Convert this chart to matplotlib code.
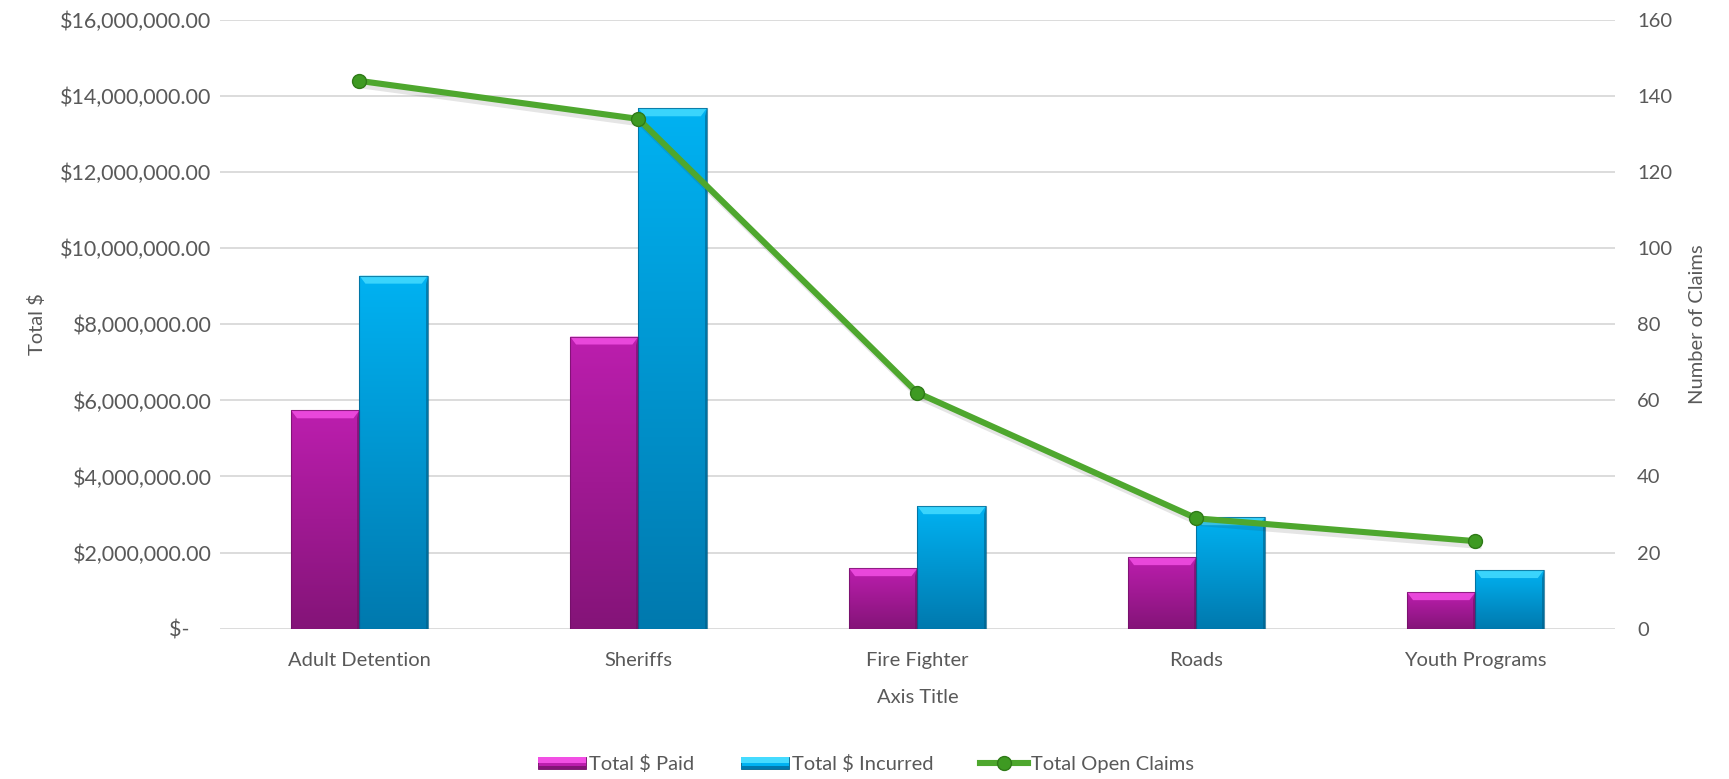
import numpy as np
import matplotlib
matplotlib.use("Agg")
import matplotlib.pyplot as plt
from matplotlib.patches import Polygon, Rectangle
from matplotlib.colors import to_rgb
from matplotlib.legend_handler import HandlerBase
from matplotlib.lines import Line2D
from matplotlib.ticker import FuncFormatter, MultipleLocator
from matplotlib.transforms import ScaledTranslation

# ---- data ----
categories = ["Adult Detention", "Sheriffs", "Fire Fighter", "Roads", "Youth Programs"]
total_paid = [5740000, 7680000, 1590000, 1880000, 960000]
total_incurred = [9280000, 13680000, 3220000, 2930000, 1540000]
open_claims = [144, 134, 62, 29, 23]

# ---- style ----
TEXT = "#595959"
GRID = "#D9D9D9"
PAID = dict(top="#BC1EAE", bottom="#841478", bevel="#F24FE4", edge="#6E0F64")
INCUR = dict(top="#00B2F2", bottom="#0079AE", bevel="#45DBFF", edge="#005F88")
LINE = "#4EA72E"
FS = 14.5

plt.rcParams["font.family"] = ["Lato", "DejaVu Sans"]
plt.rcParams["font.size"] = FS

fig = plt.figure(figsize=(17.29, 7.79), dpi=100)
ax = fig.add_axes([0.1272, 0.193, 0.8068, 0.7813])
ax2 = ax.twinx()

x = np.arange(len(categories))
w = 0.245

XLIM = (-0.5, len(categories) - 0.5)
YLIM = (0, 16_000_000)
ax.set_xlim(*XLIM)
ax.set_ylim(*YLIM)
ax2.set_ylim(0, 160)

bars_paid = ax.bar(x - w / 2, total_paid, width=w, color="none", zorder=2)
bars_inc = ax.bar(x + w / 2, total_incurred, width=w, color="none", zorder=2)


def shade_bars(bars, pal):
    fig.canvas.draw()
    bbox = ax.get_window_extent()
    dx = (XLIM[1] - XLIM[0]) / bbox.width
    dy = (YLIM[1] - YLIM[0]) / bbox.height
    top_rgb = np.array(to_rgb(pal["top"]))
    bot_rgb = np.array(to_rgb(pal["bottom"]))
    for b in bars:
        x0, y0 = b.get_x(), b.get_y()
        bw, bh = b.get_width(), b.get_height()
        x1, y1 = x0 + bw, y0 + bh
        t = np.linspace(0, 1, 256)[:, None, None]
        grad = top_rgb * (1 - t) + bot_rgb * t
        im = ax.imshow(grad, extent=[x0, x1, y0, y1], origin="upper",
                       aspect="auto", interpolation="bicubic", zorder=2)
        clip = Rectangle((x0, y0), bw, bh, transform=ax.transData)
        im.set_clip_path(clip)
        # bevelled top and sides
        bx, by = 6 * dx, 8 * dy
        ax.add_patch(Polygon([(x0, y1), (x1, y1), (x1 - bx, y1 - by), (x0 + bx, y1 - by)],
                             closed=True, facecolor=pal["bevel"], edgecolor="none",
                             alpha=0.85, zorder=2.1))
        ax.add_patch(Polygon([(x1, y1), (x1, y0), (x1 - 2 * dx, y0), (x1 - 2 * dx, y1 - by)],
                             closed=True, facecolor=pal["edge"], edgecolor="none",
                             alpha=0.6, zorder=2.1))
        ax.add_patch(Rectangle((x0, y0), bw, bh, facecolor="none",
                               edgecolor=pal["edge"], lw=0.8, alpha=0.7, zorder=2.2))


shade_bars(bars_paid, PAID)
shade_bars(bars_inc, INCUR)
ax.set_xlim(*XLIM)
ax.set_ylim(*YLIM)

# open claims line on secondary axis, with a soft drop shadow
ax2.plot(x, open_claims, color="#2a2a2a", lw=5, alpha=0.12, zorder=1,
         transform=ax2.transData + ScaledTranslation(2 / 72, -3 / 72, fig.dpi_scale_trans))
ax2.plot(x, open_claims, color=LINE, lw=4.4, marker="o", markersize=10,
         markerfacecolor="#3E9A22", markeredgecolor="#2F7A18", markeredgewidth=1, zorder=3)

# axes styling
ax.yaxis.set_major_locator(MultipleLocator(2_000_000))
ax2.yaxis.set_major_locator(MultipleLocator(20))


def money(v, _):
    if v == 0:
        return "$-    "
    return f"${v:,.2f}"


ax.yaxis.set_major_formatter(FuncFormatter(money))
ax.grid(axis="y", color=GRID, lw=1.3, zorder=0)
ax.set_axisbelow(True)
for a in (ax, ax2):
    for s in a.spines.values():
        s.set_visible(False)
    a.tick_params(length=0, colors=TEXT, labelsize=FS)
ax.tick_params(axis="y", pad=6, labelsize=15.5)
ax2.tick_params(axis="y", pad=16)
ax.tick_params(axis="x", pad=17)

ax.set_xticks(x)
ax.set_xticklabels(categories)

ax.set_ylabel("Total $", color=TEXT, fontsize=FS, labelpad=10)
ax2.set_ylabel("Number of Claims", color=TEXT, fontsize=FS, labelpad=12)
ax.set_xlabel("Axis Title", color=TEXT, fontsize=FS, labelpad=14)


class BevelHandler(HandlerBase):
    def __init__(self, pal):
        super().__init__()
        self.pal = pal

    def create_artists(self, legend, orig, xd, yd, width, height, fontsize, trans):
        h = height * 0.85
        y0 = -yd + (height - h) / 2
        base = Rectangle((-xd, y0), width, h, facecolor=self.pal["top"],
                         edgecolor=self.pal["edge"], lw=0.6, transform=trans)
        top = Rectangle((-xd, y0 + h * 0.55), width, h * 0.45,
                        facecolor=self.pal["bevel"], edgecolor="none", transform=trans)
        low = Rectangle((-xd, y0), width, h * 0.3,
                        facecolor=self.pal["bottom"], edgecolor="none", transform=trans)
        return [base, low, top]


h_paid = Rectangle((0, 0), 1, 1)
h_inc = Rectangle((0, 0), 1, 1)
h_line = Line2D([], [], color=LINE, lw=4.4, marker="o", markersize=10,
                markerfacecolor="#3E9A22", markeredgecolor="#2F7A18")
fig.legend([h_paid, h_inc, h_line], ["Total $ Paid", "Total $ Incurred", "Total Open Claims"],
           handler_map={h_paid: BevelHandler(PAID), h_inc: BevelHandler(INCUR)},
           loc="center", bbox_to_anchor=(0.501, 0.019), ncol=3, frameon=False,
           fontsize=FS, labelcolor=TEXT, handlelength=2.4, handletextpad=0.15,
           columnspacing=2.3)

fig.savefig("out.png", dpi=100)
